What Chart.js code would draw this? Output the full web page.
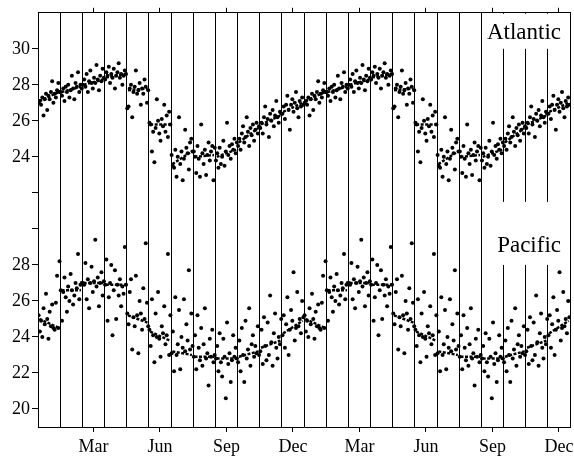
<!DOCTYPE html>
<html><head><meta charset="utf-8">
<script src="https://cdn.jsdelivr.net/npm/chart.js@4"></script>
<style>html,body{margin:0;padding:0;background:#fff;overflow:hidden}#wrap{width:574px;height:457px}</style>
</head><body><div id="wrap"><canvas id="c" width="574" height="457"></canvas></div>
<script>
const monthNames = ['Jan','Feb','Mar','Apr','May','Jun','Jul','Aug','Sep','Oct','Nov','Dec'];
const labeledMonths = ['Mar','Jun','Sep','Dec'];
const seriesNames = ['Atlantic','Pacific'];
const yearsShown = 2;
const atlanticShift = 10;

// Atlantic readings per month (deg C)
const atlantic = [
  [27.0,27.1,26.9,27.3,26.3,27.2,27.5,26.6,27.4,27.2,27.6,28.2,27.0,27.5,27.3,27.7,28.1,27.6],
  [27.6,27.4,27.8,27.1,27.9,27.6,28.0,27.3,27.7,28.5,27.8,27.2,28.1,27.9,28.7,27.6,28.0,27.8],
  [28.0,28.3,27.9,28.6,27.6,28.2,28.8,28.1,27.8,28.4,28.1,29.1,28.3,27.7,28.5,28.2,28.9,28.4],
  [28.3,28.7,28.5,29.0,28.1,28.6,28.4,28.9,27.8,28.5,28.7,29.2,28.4,28.6,28.0,28.5,28.8,28.6],
  [26.7,26.8,27.8,28.0,26.2,27.6,27.9,28.8,27.5,27.7,28.1,26.9,27.8,27.5,28.3,27.9,27.0,27.7],
  [25.9,25.8,24.3,25.4,23.7,25.6,27.2,26.0,25.3,24.9,26.1,25.7,26.9,25.4,26.3,25.1,26.5,25.8],
  [24.1,23.5,23.4,24.4,22.9,24.0,26.2,23.6,24.3,22.7,23.9,25.5,24.5,24.2,23.3,24.8,25.0,24.3],
  [24.3,24.0,23.1,24.6,23.9,22.9,25.8,24.2,23.6,24.4,23.0,24.1,24.8,23.8,24.3,24.6,22.7,24.5],
  [23.8,24.2,23.4,24.5,23.6,24.0,24.9,23.5,24.3,25.9,24.1,24.6,23.9,24.7,24.4,25.0,24.2,24.8],
  [24.6,25.0,24.4,25.3,25.7,24.8,25.1,26.2,25.4,24.6,25.6,25.2,25.8,24.9,25.5,25.9,25.3,25.7],
  [25.6,25.9,25.3,26.2,26.8,25.8,26.1,25.1,26.4,26.0,26.6,25.7,26.3,27.1,26.2,25.9,26.5,26.4],
  [26.4,26.8,26.1,26.9,27.4,26.6,25.5,26.9,27.2,26.5,27.0,27.6,26.7,26.2,27.1,26.8,27.3,26.9]
];
// Pacific readings per month (deg C)
const pacific = [
  [25.2,24.3,24.9,24.0,25.6,24.7,26.4,25.0,23.9,25.4,24.6,25.8,24.5,24.4,25.9,27.4,24.5,28.2],
  [26.6,24.9,26.5,27.3,26.2,25.4,26.8,26.0,27.5,26.6,25.8,26.3,27.0,26.7,28.6,26.1,26.9,27.0],
  [27.0,26.9,28.1,26.1,27.2,25.6,27.0,27.9,26.5,27.1,29.4,26.8,27.3,25.7,27.0,27.6,26.3,27.1],
  [26.9,28.3,24.9,26.2,27.0,28.0,24.1,26.6,27.7,25.0,26.9,26.3,27.2,25.7,26.8,26.4,29.0,26.9],
  [25.3,24.7,26.5,27.2,23.3,25.1,24.6,27.4,25.2,23.1,26.0,25.3,24.4,26.7,25.0,29.2,25.9,24.6],
  [24.4,23.5,26.1,24.1,22.6,25.3,24.0,26.5,23.9,22.9,24.6,24.2,25.7,23.6,24.1,28.6,23.0,25.2],
  [23.1,24.3,22.1,26.2,23.0,23.6,25.5,22.2,24.0,23.4,26.1,23.2,24.7,23.8,27.7,23.3,25.3,23.5],
  [22.9,24.1,22.2,25.2,23.4,22.7,24.5,22.4,23.6,25.6,22.8,23.1,21.3,23.9,22.9,24.4,22.6,23.0],
  [22.8,23.5,22.1,24.2,22.6,21.8,23.9,22.9,20.6,24.8,22.5,23.1,21.5,22.7,24.1,22.9,23.4,22.8],
  [22.6,23.8,22.1,24.5,23.0,21.5,24.9,22.8,23.3,25.6,22.4,23.6,24.1,22.9,23.5,23.1,24.6,23.0],
  [23.2,24.4,22.5,25.1,23.5,22.7,24.8,23.0,26.3,23.7,22.4,24.2,25.3,23.4,22.8,24.0,23.6,25.0],
  [24.1,25.2,23.4,24.7,26.2,23.0,24.4,25.5,24.9,27.6,23.8,24.5,26.5,24.6,25.0,24.2,26.0,25.1]
];
// monthly mean level at start / end of each month
const atlanticMean = [[27.1,27.6],[27.6,27.9],[28.0,28.3],[28.4,28.6],[27.7,27.8],[25.8,25.8],[23.6,24.3],[24.0,24.1],[24.0,24.4],[24.8,25.6],[25.8,26.3],[26.5,27.0]];
const pacificMean  = [[25.0,24.5],[26.6,26.6],[27.0,27.0],[26.9,26.9],[25.2,24.8],[24.3,23.8],[23.2,23.0],[22.9,22.9],[22.8,22.8],[22.9,23.2],[23.4,23.8],[24.2,24.9]];

const yTickValues = [20,22,24,26,28,30,32,34,36,38,40];
const yTickLabels = ['20','22','24','26','28','','','24','26','28','30'];

function pointsFor(arr, shift) {
  const pts = [];
  for (let yr = 0; yr < yearsShown; yr++) {
    arr.forEach((vals, m) => {
      vals.forEach((v, i) => pts.push({x: yr*12 + m + (i + 0.5)/vals.length, y: v + shift}));
    });
  }
  return pts;
}
function meanFor(arr, shift) {
  const pts = [];
  for (let yr = 0; yr < yearsShown; yr++) {
    arr.forEach((se, m) => {
      pts.push({x: yr*12 + m + 0.06, y: se[0] + shift});
      pts.push({x: yr*12 + m + 0.94, y: se[1] + shift});
      pts.push({x: yr*12 + m + 0.97, y: null});
    });
  }
  return pts;
}

const FONT = 'Liberation Serif, Times New Roman, serif';
const xTicks = [];
for (let v = 0; v <= 12*yearsShown; v += 0.5) xTicks.push(v);
function isLabeledTick(v) {
  return (v % 1) === 0.5 && labeledMonths.includes(monthNames[Math.floor(v) % 12]);
}

const labelPlugin = {
  id: 'oceanLabels',
  beforeDatasetsDraw(chart) {
    const {ctx, chartArea: a, scales} = chart;
    const y = scales.y;
    ctx.save();
    ctx.fillStyle = '#fff';
    const boxL = 485;
    ctx.fillRect(boxL, a.top + 1, a.right - 1 - boxL, y.getPixelForValue(40) - a.top - 1);
    ctx.fillRect(boxL + 3, y.getPixelForValue(31.5), a.right - 1 - boxL - 3, y.getPixelForValue(28) - y.getPixelForValue(31.5));
    ctx.fillStyle = '#000';
    ctx.font = '23px ' + FONT;
    ctx.textAlign = 'right';
    ctx.textBaseline = 'alphabetic';
    ctx.fillText(seriesNames[0], a.right - 9, a.top + 26);
    ctx.fillText(seriesNames[1], a.right - 9, y.getPixelForValue(28) - 13);
    ctx.restore();
  }
};

new Chart(document.getElementById('c'), {
  type: 'scatter',
  data: {
    datasets: [
      {label: seriesNames[0], data: pointsFor(atlantic, atlanticShift), pointRadius: 2, pointBackgroundColor: '#000', pointBorderWidth: 0},
      {label: seriesNames[1], data: pointsFor(pacific, 0), pointRadius: 2, pointBackgroundColor: '#000', pointBorderWidth: 0},
      {type: 'line', label: 'Atlantic mean', data: meanFor(atlanticMean, atlanticShift), borderColor: '#000', borderWidth: 2.5, borderDash: [3, 1.5], pointRadius: 0, spanGaps: false, fill: false},
      {type: 'line', label: 'Pacific mean', data: meanFor(pacificMean, 0), borderColor: '#000', borderWidth: 2.5, borderDash: [3, 1.5], pointRadius: 0, spanGaps: false, fill: false}
    ]
  },
  options: {
    responsive: false, animation: false, devicePixelRatio: 1,
    layout: {padding: 0},
    plugins: {legend: {display: false}, tooltip: {enabled: false}},
    scales: {
      x: {
        type: 'linear', position: 'bottom', min: 0, max: 12*yearsShown,
        afterBuildTicks: s => { s.ticks = xTicks.map(v => ({value: v})); },
        afterFit: s => { s.height = 30; s.paddingLeft = 0; s.paddingRight = 0; },
        ticks: {autoSkip: false, maxRotation: 0, minRotation: 0, color: '#000', padding: 4,
          font: {family: FONT, size: 18},
          callback: v => isLabeledTick(v) ? monthNames[Math.floor(v) % 12] : ''},
        grid: {
          color: c => (c.tick && c.tick.value % 1 === 0) ? '#000' : 'rgba(0,0,0,0)',
          tickColor: c => (c.tick && isLabeledTick(c.tick.value)) ? '#000' : 'rgba(0,0,0,0)',
          tickLength: 5, lineWidth: 1
        },
        border: {color: '#000', width: 1}
      },
      xTop: {
        type: 'linear', position: 'top', min: 0, max: 12*yearsShown,
        afterBuildTicks: s => { s.ticks = xTicks.map(v => ({value: v})); },
        afterFit: s => { s.height = 11; s.paddingLeft = 0; s.paddingRight = 0; },
        ticks: {display: false},
        grid: {drawOnChartArea: false,
          tickColor: c => (c.tick && isLabeledTick(c.tick.value)) ? '#000' : 'rgba(0,0,0,0)',
          tickLength: 5},
        border: {color: '#000', width: 1}
      },
      y: {
        type: 'linear', position: 'left', min: 19, max: 42,
        afterBuildTicks: s => { s.ticks = yTickValues.map(v => ({value: v})); },
        afterFit: s => { s.width = 38; },
        ticks: {color: '#000', padding: 2, font: {family: FONT, size: 18},
          callback: v => { const i = yTickValues.indexOf(v); return i >= 0 ? yTickLabels[i] : ''; }},
        grid: {drawOnChartArea: false, tickColor: '#000', tickLength: 6},
        border: {color: '#000', width: 1}
      },
      yRight: {
        type: 'linear', position: 'right', min: 19, max: 42,
        afterFit: s => { s.width = 2; },
        ticks: {display: false},
        grid: {display: false},
        border: {color: '#000', width: 1}
      }
    }
  },
  plugins: [labelPlugin]
});
</script>
</body></html>
